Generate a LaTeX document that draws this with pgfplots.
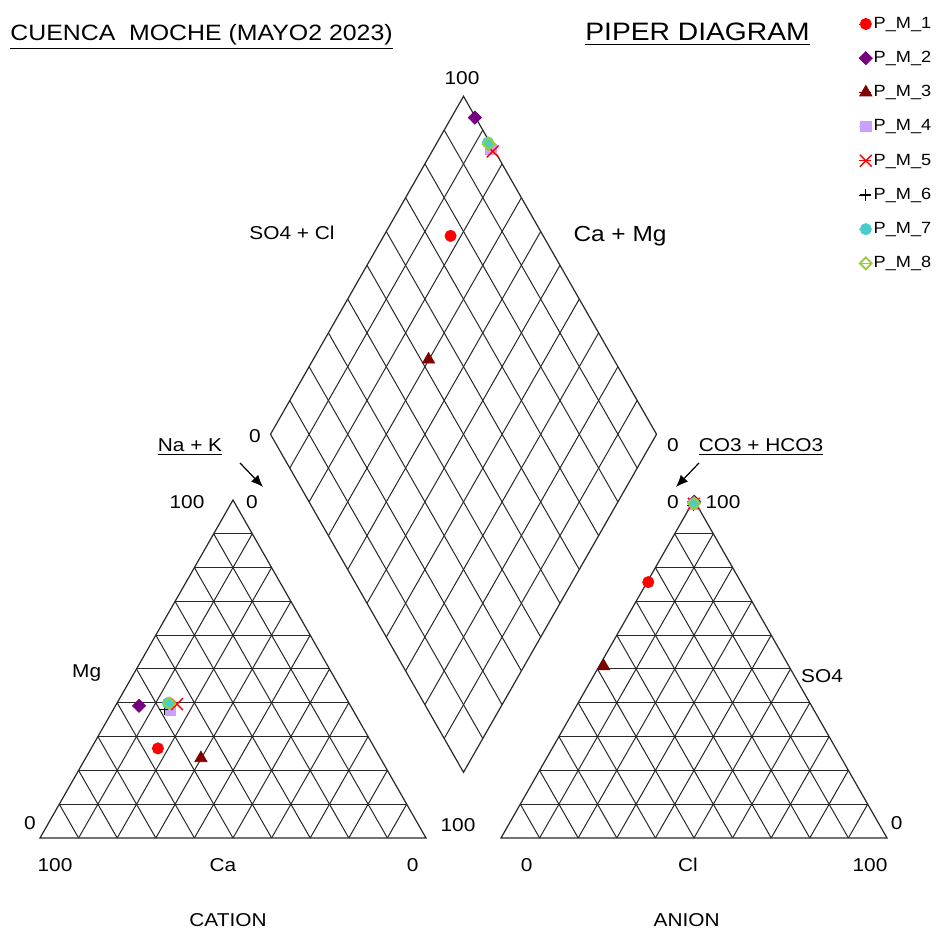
\documentclass[border=0pt]{standalone}
\usepackage{pgfplots}
\pgfplotsset{compat=1.18}
\usepackage{pgfplotstable}
\usepackage{fontspec}
\setmainfont{Liberation Sans}[FakeStretch=1.12]
\usetikzlibrary{arrows.meta}

\definecolor{cPurple}{RGB}{118,0,128}
\definecolor{cDarkRed}{RGB}{128,0,0}
\definecolor{cLav}{RGB}{200,160,255}
\definecolor{cTurq}{RGB}{72,204,206}
\definecolor{cYG}{RGB}{154,205,50}
\definecolor{gridc}{RGB}{40,40,40}

% sample compositions (% meq): cations Ca, Mg, Na+K ; anions HCO3+CO3, SO4, Cl
\pgfplotstableread{
Ca Mg NaK HCO3 SO4 Cl
56.2 26.5 17.3 24.0 75.7 0.3
}\pmA
\pgfplotstableread{
Ca Mg NaK HCO3 SO4 Cl
54.8 39.1 6.1 0.2 99.5 0.3
}\pmB
\pgfplotstableread{
Ca Mg NaK HCO3 SO4 Cl
46.5 23.6 29.9 48.0 50.8 1.2
}\pmC
\pgfplotstableread{
Ca Mg NaK HCO3 SO4 Cl
47.3 37.7 15.0 0.8 98.7 0.5
}\pmD
\pgfplotstableread{
Ca Mg NaK HCO3 SO4 Cl
44.7 39.6 15.7 0.6 98.9 0.5
}\pmE
\pgfplotstableread{
Ca Mg NaK HCO3 SO4 Cl
48.8 37.9 13.3 1.0 98.5 0.5
}\pmF
\pgfplotstableread{
Ca Mg NaK HCO3 SO4 Cl
46.9 39.9 13.2 0.5 99.0 0.5
}\pmG
\pgfplotstableread{
Ca Mg NaK HCO3 SO4 Cl
46.6 39.8 13.6 0.5 99.0 0.5
}\pmH

\newcommand{\nf}{\fontsize{9.3}{11}\selectfont}

% one sample -> cation triangle, anion triangle, diamond
\newcommand{\sample}[2]{%
  \addplot[#1] table[x expr={40+3.86*(\thisrow{NaK}+0.5*\thisrow{Mg})}, y expr={91+3.38*\thisrow{Mg}}] {#2};
  \addplot[#1, forget plot] table[x expr={501+3.86*(\thisrow{Cl}+0.5*\thisrow{SO4})}, y expr={91+3.38*\thisrow{SO4}}] {#2};
  \addplot[#1, forget plot] table[x expr={463.5+1.93*((\thisrow{SO4}+\thisrow{Cl})-(\thisrow{Ca}+\thisrow{Mg}))}, y expr={156.7+3.38*(\thisrow{Ca}+\thisrow{Mg}+\thisrow{SO4}+\thisrow{Cl})}] {#2};
}

\begin{document}
\begin{tikzpicture}
\begin{axis}[
  hide axis, scale only axis,
  width=468.5pt, height=464.5pt,
  xmin=0, xmax=937, ymin=0, ymax=929,
  clip=false,
  legend style={at={(axis cs:858,915)}, anchor=north west, draw=none, fill=none,
    inner sep=0pt, row sep=7.5pt, font=\fontsize{8.1}{10}\selectfont,
    nodes={inner xsep=0.7pt, inner ysep=0.8pt, text height=6.2pt, text depth=1.8pt}},
  legend cell align=left,
  legend image code/.code={\path (0pt,0pt) -- (6pt,0pt); \draw[#1] plot coordinates {(3.5pt,0pt)};},
  legend entries={P\_M\_1,P\_M\_2,P\_M\_3,P\_M\_4,P\_M\_5,P\_M\_6,P\_M\_7,P\_M\_8},
]
% ---- grids ----
\pgfplotsinvokeforeach{10,20,...,90}{
  % cation triangle
  \draw[gridc, line width=0.5pt] (axis cs:{40+1.93*#1},{91+3.38*#1}) -- (axis cs:{426-1.93*#1},{91+3.38*#1});
  \draw[gridc, line width=0.5pt] (axis cs:{40+3.86*#1},91) -- (axis cs:{233+1.93*#1},{429-3.38*#1});
  \draw[gridc, line width=0.5pt] (axis cs:{426-3.86*#1},91) -- (axis cs:{233-1.93*#1},{429-3.38*#1});
  % anion triangle
  \draw[gridc, line width=0.5pt] (axis cs:{501+1.93*#1},{91+3.38*#1}) -- (axis cs:{887-1.93*#1},{91+3.38*#1});
  \draw[gridc, line width=0.5pt] (axis cs:{501+3.86*#1},91) -- (axis cs:{694+1.93*#1},{429-3.38*#1});
  \draw[gridc, line width=0.5pt] (axis cs:{887-3.86*#1},91) -- (axis cs:{694-1.93*#1},{429-3.38*#1});
  % diamond
  \draw[gridc, line width=0.5pt] (axis cs:{463.5-1.93*#1},{156.7+3.38*#1}) -- (axis cs:{463.5+1.93*(100-#1)},{156.7+3.38*(#1+100)});
  \draw[gridc, line width=0.5pt] (axis cs:{463.5+1.93*#1},{156.7+3.38*#1}) -- (axis cs:{463.5+1.93*(#1-100)},{156.7+3.38*(#1+100)});
}
\draw[gridc, line width=0.6pt] (axis cs:40,91) -- (axis cs:426,91) -- (axis cs:233,429) -- cycle;
\draw[gridc, line width=0.6pt] (axis cs:501,91) -- (axis cs:887,91) -- (axis cs:694,429) -- cycle;
\draw[gridc, line width=0.6pt] (axis cs:463.5,156.7) -- (axis cs:270.5,494.7) -- (axis cs:463.5,832.7) -- (axis cs:656.5,494.7) -- cycle;

% ---- samples ----
\sample{only marks, mark=*, color=red, mark size=2.8pt}{\pmA}
\sample{only marks, mark=square*, color=cPurple, mark size=2.3pt, mark options={rotate=45}}{\pmB}
\sample{only marks, mark=triangle*, color=cDarkRed, mark size=3.5pt}{\pmC}
\sample{only marks, mark=square*, color=cLav, mark size=2.6pt}{\pmD}
\sample{only marks, mark=x, color=red, mark size=4.2pt, mark options={line width=0.7pt}}{\pmE}
\sample{only marks, mark=+, color=black, mark size=2.8pt, mark options={line width=0.5pt}}{\pmF}
\sample{only marks, mark=*, color=cTurq, mark size=2.8pt}{\pmG}
\sample{only marks, mark=square, color=cYG, mark size=2.1pt, mark options={rotate=45, line width=0.9pt}}{\pmH}

% ---- texts ----
\node[anchor=base west, inner sep=0pt, font=\fontsize{11.1}{13}\selectfont] at (axis cs:10,888) {\underline{CUENCA\ \ MOCHE (MAYO2 2023)}};
\node[anchor=base west, inner sep=0pt, font=\fontsize{12.6}{14}\selectfont] at (axis cs:585,888) {\underline{PIPER DIAGRAM}};

\node[font=\nf] at (axis cs:462,851) {100};
\node[font=\nf] at (axis cs:292,696) {SO4 + Cl};
\node[font=\fontsize{10.9}{13}\selectfont] at (axis cs:620,693) {Ca + Mg};
\node[font=\nf] at (axis cs:255,493) {0};
\node[font=\nf] at (axis cs:673,484) {0};

\node[anchor=base, font=\nf] at (axis cs:190,477.5) {\underline{Na + K}};
\node[anchor=base, font=\nf] at (axis cs:761,477.5) {\underline{CO3 + HCO3}};
\draw[-{Latex[length=6pt,width=5pt]}, line width=0.6pt] (axis cs:240,466) -- (axis cs:263,442);
\draw[-{Latex[length=6pt,width=5pt]}, line width=0.6pt] (axis cs:699,466) -- (axis cs:676,442);

\node[font=\nf] at (axis cs:187,427.3) {100};
\node[font=\nf] at (axis cs:252,427.3) {0};
\node[font=\nf] at (axis cs:673,427.3) {0};
\node[font=\nf] at (axis cs:723,427.3) {100};

\node[font=\nf] at (axis cs:86.7,255.7) {Mg};
\node[font=\nf] at (axis cs:30,105.7) {0};
\node[font=\nf] at (axis cs:458,104) {100};
\node[font=\nf] at (axis cs:55,64) {100};
\node[font=\nf] at (axis cs:223,64) {Ca};
\node[font=\nf] at (axis cs:412.7,64) {0};
\node[font=\nf] at (axis cs:228,8.7) {CATION};

\node[font=\nf] at (axis cs:822,253) {SO4};
\node[font=\nf] at (axis cs:896.7,105.7) {0};
\node[font=\nf] at (axis cs:526.7,64) {0};
\node[font=\nf] at (axis cs:688,64) {Cl};
\node[font=\nf] at (axis cs:870,64) {100};
\node[font=\nf] at (axis cs:686.7,8.7) {ANION};
\end{axis}
\pgfresetboundingbox
\useasboundingbox (current axis.south west) rectangle (current axis.north east);
\end{tikzpicture}
\end{document}
